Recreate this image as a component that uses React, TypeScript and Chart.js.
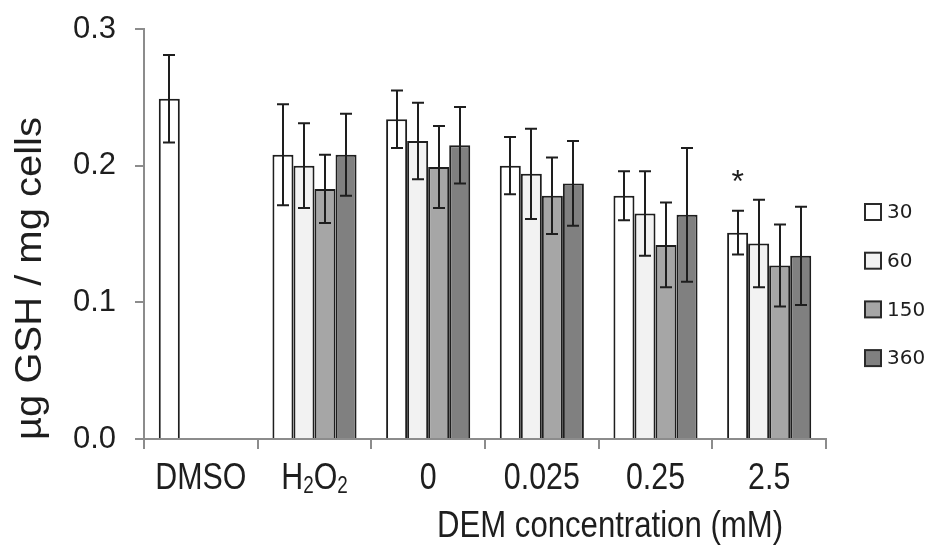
import { useEffect, useRef } from 'react';
import { Chart, registerables } from 'chart.js';

Chart.register(...registerables);

// Treatment groups along the x axis ("_" marks a subscript part)
const categories = ['DMSO', 'H_2O_2', '0', '0.025', '0.25', '2.5'];

// Exposure times (legend entries)
const seriesLabels = ['30', '60', '150', '360'];

// Mean GSH content (µg / mg cells) per exposure time
const values30 = [0.249, 0.208, 0.234, 0.2, 0.178, 0.151];
const values60 = [null, 0.2, 0.218, 0.194, 0.165, 0.143];
const values150 = [null, 0.183, 0.199, 0.178, 0.142, 0.127];
const values360 = [null, 0.208, 0.215, 0.187, 0.164, 0.134];

// Standard deviations
const errors30 = [0.032, 0.037, 0.021, 0.021, 0.018, 0.016];
const errors60 = [null, 0.031, 0.028, 0.033, 0.031, 0.032];
const errors150 = [null, 0.025, 0.03, 0.028, 0.031, 0.03];
const errors360 = [null, 0.03, 0.028, 0.031, 0.049, 0.036];

const yTicks = [0, 0.1, 0.2, 0.3];

// Significance markers: [series index, category index, symbol]
const significance: [number, number, string][] = [[0, 5, '*']];

const seriesValues = [values30, values60, values150, values360];
const seriesErrors = [errors30, errors60, errors150, errors360];
const seriesFills = ['#ffffff', '#f2f2f2', '#a6a6a6', '#808080'];

const AXIS_GREY = '#8c8c8c';
const INK = '#1e1e1e';
const SANS = '"Liberation Sans", Arial, sans-serif';
const NARROW = 0.82; // horizontal squeeze for the condensed axis lettering

// Split "H_2O_2" into normal / subscript runs
function splitRuns(label: string) {
  const runs: { text: string; sub: boolean }[] = [];
  const re = /_(\d)|([^_]+)/g;
  let m: RegExpExecArray | null;
  while ((m = re.exec(label))) {
    if (m[1]) runs.push({ text: m[1], sub: true });
    else runs.push({ text: m[2], sub: false });
  }
  return runs;
}

function drawCondensed(ctx: CanvasRenderingContext2D, label: string, cx: number, baseline: number, size: number) {
  const runs = splitRuns(label);
  const subSize = Math.round(size * 0.62);
  const widths = runs.map((r) => {
    ctx.font = `${r.sub ? subSize : size}px ${SANS}`;
    return ctx.measureText(r.text).width;
  });
  const total = widths.reduce((a, b) => a + b, 0);
  ctx.save();
  ctx.translate(cx - (total * NARROW) / 2, baseline);
  ctx.scale(NARROW, 1);
  let x = 0;
  runs.forEach((r, i) => {
    ctx.font = `${r.sub ? subSize : size}px ${SANS}`;
    ctx.fillText(r.text, x, r.sub ? size * 0.12 : 0);
    x += widths[i];
  });
  ctx.restore();
}

const decorations = {
  id: 'decorations',
  afterDatasetsDraw(chart: any) {
    const { ctx } = chart;
    const yScale = chart.scales.y;
    ctx.save();
    ctx.strokeStyle = INK;
    ctx.lineWidth = 2;
    chart.data.datasets.forEach((ds: any, di: number) => {
      const meta = chart.getDatasetMeta(di);
      const errs = seriesErrors[di];
      meta.data.forEach((bar: any, i: number) => {
        const v = ds.data[i];
        const e = errs[i];
        if (v == null || e == null) return;
        const x = Math.round(bar.x);
        const yt = yScale.getPixelForValue(v + e);
        const yb = yScale.getPixelForValue(v - e);
        ctx.beginPath();
        ctx.moveTo(x, yt);
        ctx.lineTo(x, yb);
        ctx.moveTo(x - 6, yt);
        ctx.lineTo(x + 6, yt);
        ctx.moveTo(x - 6, yb);
        ctx.lineTo(x + 6, yb);
        ctx.stroke();
      });
    });

    // significance symbols above the error bar
    ctx.fillStyle = INK;
    ctx.font = `32px ${SANS}`;
    ctx.textAlign = 'center';
    ctx.textBaseline = 'alphabetic';
    significance.forEach(([si, ci, sym]) => {
      const bar = chart.getDatasetMeta(si).data[ci];
      const v = seriesValues[si][ci] as number;
      const e = (seriesErrors[si][ci] as number) || 0;
      const top = yScale.getPixelForValue(v + e);
      ctx.fillText(sym, bar.x, top - 19);
    });
    ctx.restore();
  },
  afterDraw(chart: any) {
    const { ctx, chartArea } = chart;
    const xScale = chart.scales.x;
    ctx.save();
    ctx.fillStyle = INK;
    ctx.textAlign = 'left';
    ctx.textBaseline = 'alphabetic';

    // category labels under the x axis
    chart.data.labels.forEach((label: string, i: number) => {
      drawCondensed(ctx, label, xScale.getPixelForValue(i), chartArea.bottom + 50, 37);
    });

    // y axis title
    const yTitle = 'µg GSH / mg cells';
    ctx.font = `36px ${SANS}`;
    const yw = ctx.measureText(yTitle).width;
    ctx.save();
    ctx.translate(41, 440);
    ctx.rotate(-Math.PI / 2);
    ctx.scale(323 / yw, 1);
    ctx.fillText(yTitle, 0, 0);
    ctx.restore();

    // x axis title
    const xTitle = 'DEM concentration (mM)';
    ctx.font = `37px ${SANS}`;
    const xw = ctx.measureText(xTitle).width;
    ctx.save();
    ctx.translate(437, 537);
    ctx.scale(346 / xw, 1);
    ctx.fillText(xTitle, 0, 0);
    ctx.restore();

    // legend
    const lx = chartArea.right + 39;
    ctx.font = '20px "DejaVu Sans", Verdana, sans-serif';
    ctx.textBaseline = 'middle';
    ctx.lineWidth = 2;
    chart.data.datasets.forEach((ds: any, i: number) => {
      const cy = 212 + i * 48.7;
      ctx.fillStyle = ds.backgroundColor;
      ctx.fillRect(lx, cy - 8, 16, 16);
      ctx.strokeStyle = '#2a2a2a';
      ctx.strokeRect(lx, cy - 8, 16, 16);
      ctx.fillStyle = INK;
      ctx.fillText(ds.label, lx + 22, cy + 1);
    });
    ctx.restore();
  },
};

export default function App() {
  const canvasRef = useRef<HTMLCanvasElement | null>(null);

  useEffect(() => {
    const canvas = canvasRef.current;
    if (!canvas) return;
    const chart = new Chart(canvas, {
      type: 'bar',
      data: {
        labels: categories,
        datasets: seriesLabels.map((label, i) => ({
          label,
          data: seriesValues[i],
          backgroundColor: seriesFills[i],
          borderColor: INK,
          borderWidth: 2,
          categoryPercentage: 0.74,
          barPercentage: 1,
        })),
      },
      options: {
        responsive: false,
        devicePixelRatio: 1,
        animation: false,
        layout: { padding: { top: 29, right: 107, bottom: 0, left: 0 } },
        plugins: {
          legend: { display: false },
          tooltip: { enabled: false },
        },
        scales: {
          x: {
            grid: {
              offset: true,
              drawOnChartArea: false,
              drawTicks: true,
              tickLength: 10,
              color: AXIS_GREY,
              lineWidth: 2,
            },
            border: { display: true, color: AXIS_GREY, width: 2 },
            ticks: { display: false },
            afterFit: (s: any) => {
              s.height = 109;
            },
          },
          y: {
            min: 0,
            max: 0.3,
            afterBuildTicks: (s: any) => {
              s.ticks = yTicks.map((value) => ({ value }));
            },
            grid: {
              drawOnChartArea: false,
              drawTicks: true,
              tickLength: 9,
              color: AXIS_GREY,
              lineWidth: 2,
            },
            border: { display: true, color: AXIS_GREY, width: 2 },
            ticks: {
              color: INK,
              padding: 19,
              font: { family: SANS, size: 31, lineHeight: 0.5 },
              callback: (v: any) => Number(v).toFixed(1),
            },
            afterFit: (s: any) => {
              s.width = 144;
            },
          },
        },
      },
      plugins: [decorations],
    });
    return () => chart.destroy();
  }, []);

  return (
    <div style={{ position: 'absolute', left: 0, top: 0, width: 933, height: 548, background: '#ffffff' }}>
      <canvas ref={canvasRef} width={933} height={548} style={{ display: 'block' }} />
    </div>
  );
}
